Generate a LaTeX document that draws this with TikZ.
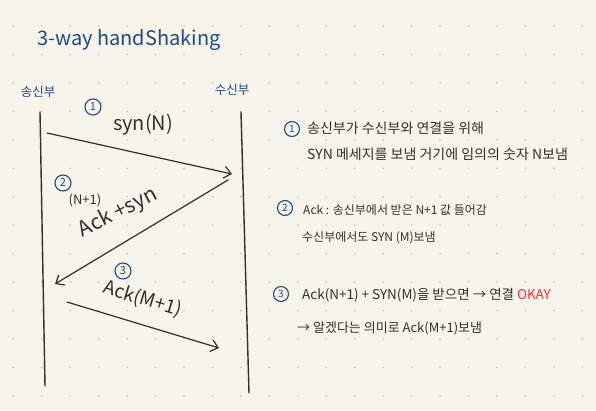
\documentclass[tikz,border=0pt]{standalone}
\usepackage{fontspec}
\setmainfont{Noto Sans CJK KR}
\usetikzlibrary{arrows.meta}
\definecolor{bgc}{HTML}{F7F5EA}
\definecolor{dotc}{HTML}{C4C1B6}
\definecolor{inkc}{HTML}{303030}
\definecolor{bluec}{HTML}{1F4A85}
\definecolor{redc}{HTML}{E8373C}
\begin{document}
\begin{tikzpicture}[x=1pt,y=-1pt,
  lifeline/.style={draw=inkc,line width=1.4pt,line cap=round},
  msg/.style={draw=inkc,line width=1.2pt,line cap=round,-{Straight Barb[length=7pt,width=12pt,line width=1.2pt]}},
  num/.style={circle,draw=bluec,text=bluec,line width=1.1pt,inner sep=0pt,minimum size=16pt,font=\fontsize{11}{11}\selectfont},
  rnum/.style={num,minimum size=15pt,font=\fontsize{10}{10}\selectfont},
  rt/.style={anchor=west,text=inkc,inner sep=0pt},
  lbl/.style={text=inkc,inner sep=0pt},
  side/.style={text=bluec,inner sep=0pt,font=\fontsize{12.5}{14}\selectfont},
]
\useasboundingbox (0,0) rectangle (596,410);
\fill[bgc] (0,0) rectangle (596,410);
\foreach \i in {0,...,20} \foreach \j in {0,...,13}
  \fill[dotc] ({13.3+28.45*\i},{26+28.45*\j}) circle (0.9pt);

% title
\node[text=bluec,inner sep=0pt,anchor=base west,font=\fontsize{20}{24}\selectfont] (title) at (37,45) {3-way handShaking};

% parties
\node[side] (snd) at (38,92) {송신부};
\node[side] (rcv) at (232,90) {수신부};

% lifelines
\coordinate (sTop) at (40,112);
\coordinate (sBot) at (45,386);
\coordinate (rTop) at (241,112);
\coordinate (rBot) at (249,393);
\draw[lifeline] (sTop) -- (sBot);
\draw[lifeline] (rTop) -- (rBot);

% messages
\coordinate (m1s) at (47,133);
\coordinate (m1e) at (232,174);
\coordinate (m2s) at (228,180);
\coordinate (m2e) at (55,284);
\coordinate (m3s) at (67,302);
\coordinate (m3e) at (219,348);
\draw[msg] (m1s) -- (m1e);
\draw[msg] (m2s) -- (m2e);
\draw[msg] (m3s) -- (m3e);

% step numbers on diagram
\node[num] (n1) at (93,107) {1};
\node[num] (n2) at (63,183) {2};
\node[num] (n3) at (123,271) {3};

% message labels
\node[lbl,font=\fontsize{20}{24}\selectfont] (l1) at (143,125) {syn(N)};
\node[lbl,font=\fontsize{13}{15}\selectfont] (l2a) at (85,200) {(N+1)};
\node[lbl,font=\fontsize{21}{25}\selectfont,rotate=27] (l2) at (118,213) {Ack +syn};
\node[lbl,font=\fontsize{19}{23}\selectfont,rotate=-17] (l3) at (143,299) {Ack(M+1)};

% explanations
\node[rnum] (r1) at (292,129) {1};
\node[rt,font=\fontsize{14}{16}\selectfont] (t1a) at (307,128) {송신부가 수신부와 연결을 위해};
\node[rt,font=\fontsize{14}{16}\selectfont] (t1b) at (307,154) {SYN 메세지를 보냄 거기에 임의의 숫자 N보냄};
\node[rnum] (r2) at (285,208) {2};
\node[rt,font=\fontsize{12}{14}\selectfont] (t2a) at (303,210) {Ack : 송신부에서 받은 N+1 값 들어감};
\node[rt,font=\fontsize{12}{14}\selectfont] (t2b) at (302,238) {수신부에서도 SYN (M)보냄};
\node[rnum] (r3) at (281,294) {3};
\node[rt,font=\fontsize{13.5}{16}\selectfont] (t3a) at (302,295) {Ack(N+1) + SYN(M)을 받으면 → 연결 \textcolor{redc}{OKAY}};
\node[rt,font=\fontsize{13}{15}\selectfont] (t3b) at (297,328) {→ 알겠다는 의미로 Ack(M+1)보냄};
\end{tikzpicture}
\end{document}
